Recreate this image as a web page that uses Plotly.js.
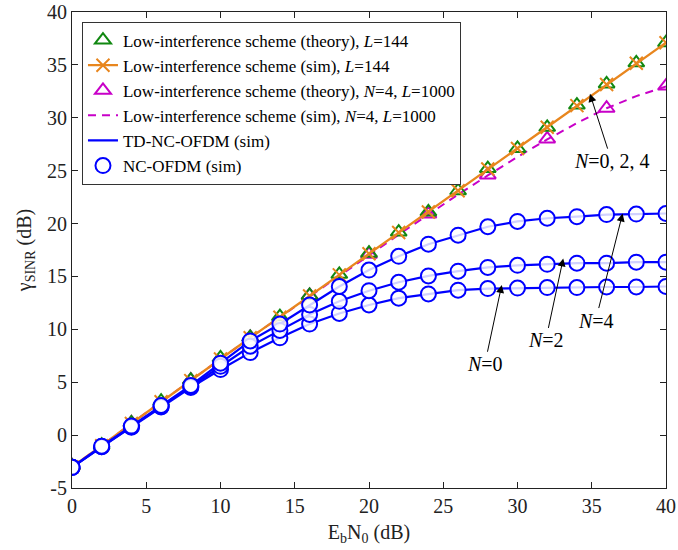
<!DOCTYPE html>
<html>
<head>
<meta charset="utf-8">
<script src="https://cdn.plot.ly/plotly-3.0.1.min.js"></script>
<style>html,body{margin:0;padding:0;background:#fff;}#chart{width:678px;height:550px;}</style>
</head>
<body>
<div id="chart"></div>
<script>
// ---- data ----
const ebn0 = [0,2,4,6,8,10,12,14,16,18,20,22,24,26,28,30,32,34,36,38,40];
const ebn0Step4 = [0,4,8,12,16,20,24,28,32,36,40];
const lowIntTheoryL144 = [-2.9,-0.95,1.15,3.2,5.2,7.3,9.25,11.2,13.2,15.2,17.2,19.2,21.1,23.1,25.2,27.1,29.1,31.2,33.2,35.2,37.1];
const lowIntSimL144 = [-3,-1,1.1,3.15,5.15,7.2,9.2,11.15,13.15,15.15,17.15,19.15,21.1,23.1,25.15,27.1,29.1,31.15,33.15,35.15,37.1];
const lowIntTheoryN4L1000 = [-2.9,1.15,5.2,9.25,13.2,17.1,20.9,24.6,28.0,30.9,33.0];
const lowIntSimN4L1000 = [-3,-1,1.1,3.15,5.15,7.2,9.2,11.15,13.1,15.1,17.0,18.95,20.85,22.75,24.55,26.3,27.95,29.5,30.9,32.05,32.95];
const ncN4 = [-3.05,-1.05,0.85,2.8,4.7,6.8,8.9,10.5,12.3,14.05,15.6,16.9,18.05,18.9,19.7,20.2,20.5,20.65,20.85,20.9,20.95];
const ncN2 = [-3.05,-1.1,0.8,2.7,4.6,6.5,8.4,9.9,11.4,12.65,13.65,14.45,15.05,15.5,15.85,16.05,16.15,16.25,16.25,16.35,16.35];
const ncN0 = [-3.05,-1.1,0.75,2.65,4.5,6.2,7.8,9.2,10.5,11.5,12.3,12.95,13.35,13.7,13.85,13.9,13.95,13.95,14.0,14.0,14.05];
const xTicks = [0,5,10,15,20,25,30,35,40];
const yTicks = [-5,0,5,10,15,20,25,30,35,40];
const yTickText = ['-5','0','5','10','15','20','25','30','35','40'];
const legendNames = [
  'Low-interference scheme (theory), <i>L</i>=144',
  'Low-interference scheme (sim), <i>L</i>=144',
  'Low-interference scheme (theory), <i>N</i>=4, <i>L</i>=1000',
  'Low-interference scheme (sim), <i>N</i>=4, <i>L</i>=1000',
  'TD-NC-OFDM (sim)',
  'NC-OFDM (sim)'
];
const ncSeries = [ncN0, ncN2, ncN4];
const annoLabels = ['<i>N</i>=0', '<i>N</i>=2', '<i>N</i>=4', '<i>N</i>=0, 2, 4'];

// ---- styles ----
const FONT = '"Times New Roman", "Liberation Serif", serif';
const GREEN = '#118811';
const ORANGE = '#e8861e';
const MAGENTA = '#c800c8';
const BLUE = '#0000ff';

const traces = [];
traces.push({x: ebn0Step4, y: lowIntTheoryN4L1000, mode: 'markers', name: legendNames[2], legendrank: 3,
  marker: {symbol: 'triangle-up-open', size: 14, color: MAGENTA, line: {width: 2, color: MAGENTA}}});
traces.push({x: ebn0, y: lowIntSimN4L1000, mode: 'lines', name: legendNames[3], legendrank: 4,
  line: {color: MAGENTA, width: 2, dash: '8px,6px'}});
traces.push({x: ebn0, y: lowIntTheoryL144, mode: 'markers', name: legendNames[0], legendrank: 1,
  marker: {symbol: 'triangle-up-open', size: 14, color: GREEN, line: {width: 2, color: GREEN}}});
traces.push({x: ebn0, y: lowIntSimL144, mode: 'lines+markers', name: legendNames[1], legendrank: 2,
  line: {color: ORANGE, width: 2.3},
  marker: {symbol: 'x-thin-open', size: 13, color: ORANGE, line: {width: 2, color: ORANGE}}});
ncSeries.forEach((s, i) => {
  traces.push({x: ebn0, y: s, mode: 'lines', name: legendNames[4], legendgroup: 'td', legendrank: 5,
    showlegend: i === 0, line: {color: BLUE, width: 2.2}});
});
ncSeries.forEach((s, i) => {
  traces.push({x: ebn0, y: s, mode: 'markers', name: legendNames[5], legendgroup: 'nc', legendrank: 6,
    showlegend: i === 0,
    marker: {symbol: 'circle', size: 15, color: 'rgba(255,255,255,0.82)', line: {width: 2, color: BLUE}}});
});

const annoFont = {family: FONT, size: 20, color: '#000'};
function arrowAnno(text, x, y, ax, ay) {
  return {text: text, x: x, y: y, ax: ax, ay: ay, xref: 'x', yref: 'y', axref: 'x', ayref: 'y',
    showarrow: true, arrowhead: 2, arrowsize: 1.6, arrowwidth: 1, arrowcolor: '#000',
    font: annoFont};
}

const layout = {
  width: 678, height: 550,
  margin: {l: 72, r: 12, t: 12, b: 62},
  paper_bgcolor: '#fff', plot_bgcolor: '#fff',
  font: {family: FONT, size: 20, color: '#222'},
  showlegend: true,
  legend: {x: 0.0168, y: 0.98, xanchor: 'left', yanchor: 'top',
    bgcolor: '#fff', bordercolor: '#333', borderwidth: 1,
    font: {family: FONT, size: 17, color: '#000'}, tracegroupgap: 0},
  xaxis: {range: [0, 40], tickvals: xTicks, ticks: 'inside', ticklen: 6, tickcolor: '#222',
    showline: true, linecolor: '#222', linewidth: 1, mirror: 'ticks', showgrid: false, zeroline: false,
    ticklabeloverflow: 'allow',
    tickfont: {family: FONT, size: 20, color: '#222'},
    title: {text: 'E<sub>b</sub>N<sub>0</sub> (dB)', font: {family: FONT, size: 20, color: '#222'}, standoff: 8}},
  yaxis: {range: [-5, 40], tickvals: yTicks, ticktext: yTickText, ticks: 'inside', ticklen: 6, tickcolor: '#222',
    showline: true, linecolor: '#222', linewidth: 1, mirror: 'ticks', showgrid: false, zeroline: false,
    ticklabeloverflow: 'allow',
    tickfont: {family: FONT, size: 20, color: '#222'},
    title: {text: '\u03b3<sub>SINR</sub> (dB)', font: {family: FONT, size: 20, color: '#222'}, standoff: 10}},
  annotations: [
    arrowAnno(annoLabels[0], 28.94, 14.2, 27.8, 6.7),
    arrowAnno(annoLabels[1], 33.08, 16.7, 31.9, 8.95),
    arrowAnno(annoLabels[2], 37.08, 20.96, 35.26, 10.83),
    arrowAnno(annoLabels[3], 34.88, 32.26, 36.34, 25.9)
  ]
};

Plotly.newPlot('chart', traces, layout, {displayModeBar: false, staticPlot: true});
</script>
</body>
</html>
